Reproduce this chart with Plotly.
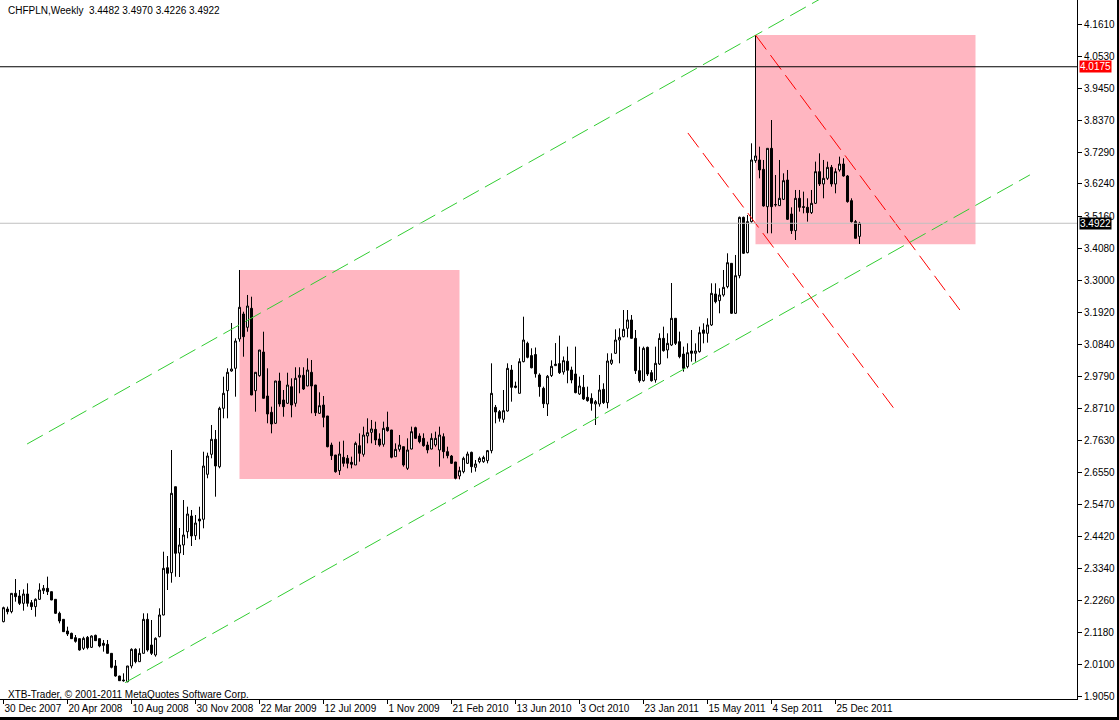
import pandas as pd
import plotly.graph_objects as go

# ---------------- data (weekly CHFPLN candles) ----------------
start_week = "2007-12-30"
opens = [2.1548,2.1973,2.1884,2.2499,2.2410,2.2163,2.2477,2.2186,2.2052,2.2298,
         2.2589,2.2667,2.2555,2.2298,2.1828,2.1626,2.1235,2.1156,2.1011,2.0977,
         2.0653,2.1022,2.0686,2.1089,2.0977,2.0821,2.0787,2.0485,2.0060,1.9724,
         1.9590,1.9534,2.0060,2.0619,2.0205,2.0485,2.1626,2.0765,2.0429,2.1045,
         2.1772,2.3359,2.3192,2.6078,2.3853,2.4122,2.4568,2.5095,2.4434,2.4994,
         2.4984,2.6495,2.7166,2.7669,2.6750,2.8710,2.9301,2.9962,3.0053,3.1037,
         3.1876,3.1429,3.2067,2.9301,2.9805,3.0600,2.9123,2.8576,2.8207,2.9627,
         2.8989,2.8878,2.9435,2.8878,2.9751,2.9818,2.9459,2.9919,2.9492,2.8542,
         2.8821,2.8452,2.7478,2.7143,2.6617,2.7065,2.7031,2.6897,2.6807,2.7456,
         2.7165,2.7781,2.7904,2.8004,2.7680,2.7501,2.8072,2.7982,2.7087,2.7333,
         2.7422,2.6695,2.7344,2.8060,2.7781,2.7702,2.7478,2.7344,2.7478,2.7311,
         2.7758,2.7255,2.7109,2.6908,2.6438,2.6583,2.6863,2.7232,2.6729,2.6919,
         2.6920,2.6953,2.7289,2.8743,2.8598,2.8340,2.8620,2.9996,2.9459,2.9213,
         3.0276,3.0891,3.0480,3.0515,2.9828,2.9381,2.8855,2.9810,3.0142,3.0210,
         2.9930,3.0290,2.9996,2.9862,2.9191,2.9414,2.9079,2.9045,2.8855,2.8855,
         2.9347,2.8900,3.0220,3.0556,3.1003,3.1115,3.1395,3.1675,3.1059,2.9974,
         2.9638,3.0757,2.9907,2.9661,3.0198,3.1059,3.0668,3.0835,3.1731,3.0947,
         3.0533,3.0108,3.0634,3.0556,3.0612,3.1339,3.1227,3.1507,3.2548,3.2324,
         3.2514,3.2794,3.3577,3.1899,3.3163,3.5121,3.3935,3.4976,3.7023,3.7046,
         3.6732,3.5479,3.7437,3.5535,3.5513,3.5725,3.6374,3.5233,3.4674,3.5759,
         3.5479,3.5457,3.5278,3.5591,3.6654,3.6240,3.6430,3.6799,3.6240,3.6710,
         3.6911,3.6509,3.5681,3.4976,3.4482]
highs = [2.2052,2.2052,2.2510,2.2980,2.2611,2.2633,2.2835,2.2275,2.2331,2.2835,
         2.2779,2.3059,2.2560,2.2300,2.1884,2.1630,2.1380,2.1179,2.1100,2.0980,
         2.1044,2.1067,2.1089,2.1112,2.0980,2.0933,2.0933,2.0490,2.0261,1.9730,
         1.9814,2.0065,2.0653,2.0653,2.0653,2.1828,2.1828,2.1604,2.1022,2.1996,
         2.3897,2.3752,2.7310,2.6080,2.4693,2.5632,2.5407,2.5296,2.5129,2.5407,
         2.7253,2.7220,2.8150,2.7981,2.8764,2.9771,3.0053,3.1574,3.1060,3.3353,
         3.1953,3.2514,3.2456,2.9925,3.0670,3.1282,3.0053,2.8764,2.9630,2.9905,
         2.9324,2.9905,2.9717,3.0087,3.0087,3.0087,3.0389,3.0332,2.9495,2.9247,
         2.9123,2.8455,2.7556,2.7145,2.7590,2.7624,2.7143,2.7087,2.7590,2.7870,
         2.8094,2.8374,2.8318,2.8262,2.7870,2.8262,2.8597,2.7985,2.7534,2.7814,
         2.7425,2.7702,2.8094,2.8094,2.7870,2.7870,2.7590,2.7870,2.7926,2.8094,
         2.7870,2.7422,2.7143,2.6910,2.6751,2.7087,2.7255,2.7255,2.6975,2.7087,
         2.7120,2.7311,3.0220,2.8822,2.8654,2.9325,3.0220,3.0164,2.9605,3.0388,
         3.1785,3.0947,3.0724,3.0750,2.9884,2.9437,2.9829,3.0320,3.0900,3.1150,
         3.0450,3.0780,3.0108,3.0780,2.9773,2.9829,2.9437,2.9213,2.8989,2.9829,
         2.9549,3.0556,3.0556,3.1361,3.1395,3.2010,3.2010,3.1842,3.1339,3.0780,
         3.0780,3.0780,2.9996,3.0780,3.1227,3.1451,3.1227,3.2916,3.1740,3.1283,
         3.0780,3.0891,3.1339,3.0891,3.1451,3.1563,3.1731,3.2906,3.2906,3.2738,
         3.3353,3.3913,3.3580,3.3857,3.5144,3.5144,3.5200,3.7605,4.1240,3.7493,
         3.7046,3.7440,3.8388,3.6542,3.7046,3.6598,3.6710,3.5457,3.6039,3.6039,
         3.5983,3.5759,3.6039,3.6990,3.7269,3.7046,3.6990,3.6878,3.6766,3.7158,
         3.7102,3.6542,3.5759,3.5032,3.4970]
lows = [2.1526,2.1794,2.1828,2.2219,2.2107,2.1917,2.2052,2.1940,2.1716,2.2275,
        2.2477,2.2443,2.2270,2.1805,2.1492,2.1200,2.1067,2.0970,2.0843,2.0575,
        2.0597,2.0619,2.0664,2.0905,2.0686,2.0541,2.0480,1.9981,1.9702,1.9560,
        1.9534,1.9512,1.9981,2.0149,2.0200,2.0480,2.0541,2.0429,2.0373,2.1022,
        2.1760,2.2611,2.2856,2.3057,2.3047,2.3786,2.4346,2.4088,2.4289,2.4312,
        2.4682,2.6361,2.7032,2.5743,2.6696,2.8375,2.8375,2.9939,2.9100,3.0946,
        3.0442,3.1282,2.9150,2.8596,2.9771,2.9040,2.8207,2.7871,2.8183,2.8764,
        2.8428,2.8855,2.8408,2.8764,2.9214,2.9324,2.9455,2.8542,2.8452,2.8519,
        2.8073,2.7401,2.6975,2.6548,2.6471,2.6751,2.6695,2.6695,2.6807,2.6919,
        2.7087,2.7534,2.7534,2.7478,2.7422,2.7422,2.7926,2.7031,2.7085,2.7255,
        2.6751,2.6639,2.7333,2.7680,2.7534,2.7422,2.7199,2.7333,2.7422,2.6751,
        2.7031,2.7031,2.6841,2.6326,2.6326,2.6527,2.6841,2.6548,2.6584,2.6863,
        2.6880,2.6863,2.7199,2.8206,2.8262,2.8228,2.8598,2.8933,2.9381,2.9210,
        3.0254,3.0388,3.0052,2.9740,2.9100,2.8720,2.8452,2.9760,3.0130,2.9862,
        2.9840,2.9550,2.9549,2.9213,2.9157,2.8989,2.8933,2.8631,2.8150,2.8766,
        2.8855,2.8710,3.0164,3.0533,3.0220,3.1093,3.1093,3.1055,2.9862,2.9571,
        2.9605,2.9795,2.9605,2.9571,3.0164,3.0612,3.0388,3.0800,3.0835,3.0388,
        2.9940,3.0052,3.0276,3.0276,3.0578,3.0891,3.0914,3.1473,3.2234,3.1899,
        3.2458,3.2738,3.1876,3.1876,3.3074,3.3890,3.3913,3.4942,3.6950,3.6430,
        3.5479,3.4584,3.4584,3.5479,3.5502,3.5703,3.5032,3.4562,3.4360,3.5311,
        3.5255,3.4976,3.5233,3.5569,3.6173,3.5759,3.6374,3.6151,3.5927,3.6654,
        3.6486,3.5613,3.4942,3.4416,3.4226]
closes = [2.2018,2.1884,2.2499,2.2387,2.2163,2.2477,2.2163,2.2052,2.2298,2.2611,
          2.2667,2.2555,2.2275,2.1828,2.1570,2.1212,2.1134,2.0977,2.0888,2.0597,
          2.0989,2.0675,2.1067,2.0910,2.0731,2.0754,2.0485,2.0015,1.9724,1.9567,
          1.9567,2.0060,2.0619,2.0205,2.0485,2.1626,2.0597,2.0485,2.0989,2.1772,
          2.3338,2.3171,2.5857,2.3843,2.4122,2.4457,2.5162,2.4424,2.4860,2.4927,
          2.6773,2.7109,2.7669,2.6773,2.8710,2.9214,2.9919,3.0029,3.0969,3.2101,
          3.1114,3.2144,2.9157,2.9919,3.0667,2.9046,2.8519,2.8183,2.9627,2.8855,
          2.8764,2.9492,2.8821,2.9717,2.9818,2.9358,2.9996,2.9459,2.8562,2.8798,
          2.8408,2.7421,2.7119,2.6582,2.7176,2.6863,2.6863,2.6830,2.7534,2.7199,
          2.7814,2.7892,2.8016,2.7646,2.7478,2.8038,2.7960,2.7065,2.7333,2.7478,
          2.6807,2.7311,2.7926,2.7702,2.7590,2.7456,2.7311,2.7702,2.7702,2.7814,
          2.7255,2.7120,2.6863,2.6360,2.6617,2.7031,2.7176,2.6751,2.6841,2.7031,
          2.7060,2.7289,2.9213,2.8586,2.8374,2.8631,3.0052,2.9414,2.9414,3.0276,
          3.1003,3.0421,3.0070,2.9870,2.9437,2.8866,2.9784,3.0120,3.0190,2.9907,
          3.0310,2.9985,2.9661,2.9236,2.9459,2.9023,2.8967,2.8877,2.8933,2.9325,
          2.8900,3.0298,3.0332,3.1003,3.1093,3.1361,3.1675,3.1059,2.9974,2.9638,
          3.0724,2.9862,2.9638,3.0220,3.1059,3.0645,3.0891,3.1731,3.0891,3.0444,
          3.0052,3.0578,3.0556,3.0634,3.1249,3.1227,3.1507,3.2570,3.2290,3.2514,
          3.2771,3.3599,3.1899,3.3163,3.5121,3.3913,3.4976,3.7046,3.7180,3.6710,
          3.5502,3.7437,3.5479,3.5550,3.5759,3.6352,3.5054,3.4674,3.5759,3.5457,
          3.5457,3.5278,3.5591,3.6654,3.6240,3.6430,3.6799,3.6240,3.6654,3.6911,
          3.6509,3.5647,3.4976,3.4416,3.4922]

# time-scale labels (every 16 weeks) and price-scale labels
date_labels = ["30 Dec 2007", "20 Apr 2008", "10 Aug 2008", "30 Nov 2008", "22 Mar 2009",
               "12 Jul 2009", "1 Nov 2009", "21 Feb 2010", "13 Jun 2010", "3 Oct 2010",
               "23 Jan 2011", "15 May 2011", "4 Sep 2011", "25 Dec 2011"]
price_ticks = [4.1610, 4.0530, 3.9450, 3.8370, 3.7290, 3.6240, 3.5160, 3.4080, 3.3000,
               3.1920, 3.0840, 2.9790, 2.8710, 2.7630, 2.6550, 2.5470, 2.4420, 2.3340,
               2.2260, 2.1180, 2.0100, 1.9050]

# drawing objects: (bar index, price) anchors
green_upper = [(5.9, 2.7512), (206.6, 4.2634)]
green_lower = [(30.4, 1.9499), (256.6, 3.6545)]
red_upper = [(188.0, 4.1240), (239.1, 3.2010)]
red_lower = [(171.1, 3.7952), (222.9, 2.8653)]
rectangles = [((59, 3.3353), (114, 2.6337)), ((188, 4.1240), (243, 3.4220))]
hline_price = 4.0175
bid_price = 3.4922
y_range = [1.8952, 4.2416]
bar_range = [-0.875, 268.375]

# ---------------- figure ----------------
dates = pd.date_range(start_week, periods=len(opens), freq="7D")
t0 = dates[0]


def bar_date(i):
    return t0 + pd.Timedelta(days=7 * i)


FONT = "Liberation Sans"
fig = go.Figure()

fig.add_trace(go.Candlestick(
    x=dates, open=opens, high=highs, low=lows, close=closes,
    increasing=dict(line=dict(color="black", width=1), fillcolor="white"),
    decreasing=dict(line=dict(color="black", width=1), fillcolor="black"),
    whiskerwidth=0, showlegend=False, hoverinfo="skip"))

for pts, col in [(green_upper, "#32CD32"), (green_lower, "#32CD32"),
                 (red_upper, "#FF0000"), (red_lower, "#FF0000")]:
    fig.add_trace(go.Scatter(
        x=[bar_date(p[0]) for p in pts], y=[p[1] for p in pts], mode="lines",
        line=dict(color=col, width=1, dash="18px,7px"),
        showlegend=False, hoverinfo="skip"))

shapes = []
for (a, b) in rectangles:
    shapes.append(dict(type="rect", xref="x", yref="y", x0=bar_date(a[0]), x1=bar_date(b[0]),
                       y0=b[1], y1=a[1], fillcolor="#FFB6C1", line=dict(width=0), layer="below"))
shapes.append(dict(type="line", xref="paper", yref="y", x0=0, x1=1, y0=hline_price, y1=hline_price,
                   line=dict(color="black", width=1), layer="above"))
shapes.append(dict(type="line", xref="paper", yref="y", x0=0, x1=1, y0=bid_price, y1=bid_price,
                   line=dict(color="#C0C0C0", width=1), layer="above"))

W, H = 1119, 720
ML, MR, MT, MB = 0, 42, 0, 21
pw, ph = W - ML - MR, H - MT - MB
# window frame (right and bottom dark edges of the terminal window)
shapes.append(dict(type="rect", xref="paper", yref="paper", x0=(W - ML - 2) / pw, x1=(W + 2) / pw,
                   y0=-(MB + 2) / ph, y1=1.01, fillcolor="black", line=dict(width=0)))
shapes.append(dict(type="rect", xref="paper", yref="paper", x0=-0.01, x1=(W + 2) / pw,
                   y0=-(MB + 2) / ph, y1=-(MB - 3) / ph, fillcolor="black", line=dict(width=0)))

title_txt = "CHFPLN,Weekly  {:.4f} {:.4f} {:.4f} {:.4f}".format(opens[-1], highs[-1], lows[-1], closes[-1])
annotations = [
    dict(text=title_txt, xref="paper", yref="paper", x=6 / pw, y=1 - 11 / ph, xanchor="left",
         yanchor="middle", showarrow=False, font=dict(family=FONT, size=10, color="black")),
    dict(text="XTB-Trader, © 2001-2011 MetaQuotes Software Corp.", xref="paper", yref="paper",
         x=6 / pw, y=5 / ph, xanchor="left", yanchor="middle", showarrow=False,
         font=dict(family=FONT, size=10, color="black")),
    dict(text="{:.4f}".format(hline_price), xref="paper", yref="y", x=1, y=hline_price,
         xanchor="left", yanchor="middle", xshift=2, showarrow=False, bgcolor="#FF0000",
         font=dict(family=FONT, size=10, color="white"), borderpad=0),
    dict(text="{:.4f}".format(bid_price), xref="paper", yref="y", x=1, y=bid_price,
         xanchor="left", yanchor="middle", xshift=2, showarrow=False, bgcolor="black",
         font=dict(family=FONT, size=10, color="white"), borderpad=0),
]

fig.update_layout(
    width=W, height=H, margin=dict(l=ML, r=MR, t=MT, b=MB, autoexpand=False),
    paper_bgcolor="white", plot_bgcolor="white", showlegend=False,
    shapes=shapes, annotations=annotations,
    xaxis=dict(type="date", range=[bar_date(bar_range[0]), bar_date(bar_range[1])],
               rangeslider=dict(visible=False), showgrid=False, zeroline=False,
               tickmode="array", tickvals=list(dates[::16])[:len(date_labels)], ticktext=date_labels,
               ticks="outside", ticklen=4, tickcolor="black", ticklabelposition="outside right",
               tickangle=0, automargin=False,
               showline=True, linecolor="black", linewidth=1, mirror=True,
               tickfont=dict(family=FONT, size=10, color="black")),
    yaxis=dict(side="right", range=y_range, showgrid=False, zeroline=False, automargin=False,
               tickmode="array", tickvals=price_ticks, ticktext=["{:.4f}".format(v) for v in price_ticks],
               ticks="outside", ticklen=4, tickcolor="black",
               showline=True, linecolor="black", linewidth=1, mirror=True,
               tickfont=dict(family=FONT, size=10, color="black")),
)

fig.write_html("out.html", config={"displayModeBar": False},
               post_script="document.body.style.margin='0px';document.body.style.overflow='hidden';")
